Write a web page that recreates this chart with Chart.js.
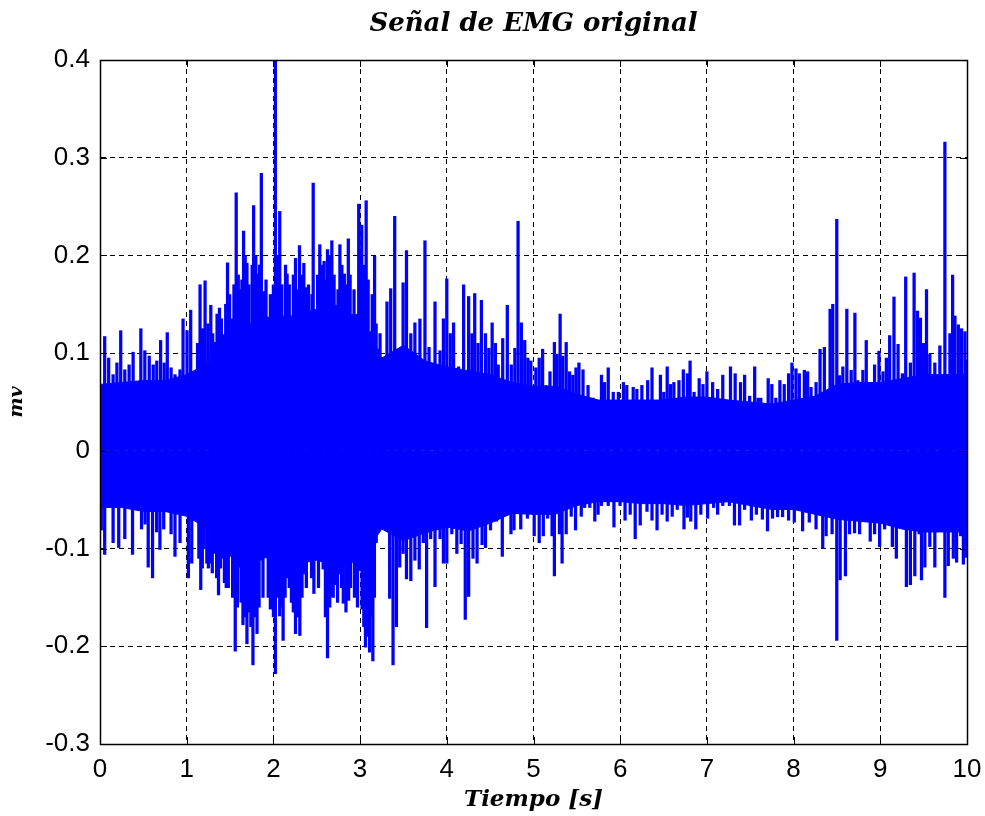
<!DOCTYPE html>
<html>
<head>
<meta charset="utf-8">
<script src="https://cdn.jsdelivr.net/npm/chart.js@4/dist/chart.umd.min.js"></script>
<style>
  html, body { margin: 0; padding: 0; background: #ffffff; }
  #wrap { width: 985px; height: 816px; }
</style>
</head>
<body>
<div id="wrap"><canvas id="c" width="985" height="816"></canvas></div>
<script>
// ---- Data ----
const chartTitle = 'Señal de EMG original';
const xTitle = 'Tiempo [s]';
const yTitle = 'mv';
const xTickValues = [0, 1, 2, 3, 4, 5, 6, 7, 8, 9, 10];
const yTickValues = [-0.3, -0.2, -0.1, 0, 0.1, 0.2, 0.3, 0.4];

// Solid body of the signal (envelope of the dense part), seconds / mV
const coreTimes = [0, 0.25, 0.5, 0.75, 1, 1.25, 1.5, 1.75, 2, 2.25, 2.5, 2.75, 3, 3.25, 3.5, 3.75, 4, 4.25, 4.5, 4.75, 5,
  5.25, 5.5, 5.75, 6, 6.25, 6.5, 6.75, 7, 7.25, 7.5, 7.75, 8, 8.25, 8.5, 8.75, 9, 9.25, 9.5, 9.75, 10];
const coreUpper = [0.068, 0.07, 0.072, 0.072, 0.078, 0.09, 0.112, 0.132, 0.138, 0.138, 0.145, 0.138, 0.14, 0.095, 0.108, 0.092, 0.086, 0.082, 0.078, 0.07, 0.066,
  0.066, 0.058, 0.052, 0.052, 0.052, 0.052, 0.055, 0.055, 0.052, 0.05, 0.048, 0.052, 0.056, 0.068, 0.07, 0.07, 0.074, 0.078, 0.078, 0.078];
const coreLower = [-0.058, -0.058, -0.062, -0.062, -0.067, -0.08, -0.095, -0.112, -0.108, -0.116, -0.112, -0.118, -0.112, -0.08, -0.092, -0.084, -0.078, -0.082, -0.074, -0.064, -0.065,
  -0.065, -0.056, -0.052, -0.052, -0.054, -0.054, -0.056, -0.054, -0.052, -0.056, -0.06, -0.06, -0.065, -0.07, -0.072, -0.074, -0.08, -0.083, -0.083, -0.083];

// Positive peaks (time s, value mV)
const upTimes = [0.054,0.100,0.151,0.195,0.239,0.286,0.336,0.382,0.421,0.471,0.517,0.568,0.614,0.655,0.699,0.740,0.776,0.820,0.865,0.923,
  0.958,1.004,1.046,1.100,1.154,1.212,1.278,1.328,1.378,1.425,1.471,1.521,1.571,1.618,1.656,1.695,1.741,1.772,1.822,1.861,
  1.888,1.946,1.985,2.023,2.073,2.120,2.158,2.208,2.255,2.301,2.351,2.382,2.429,2.459,2.488,2.535,2.585,2.624,2.674,2.721,
  2.767,2.818,2.864,2.907,2.953,2.984,3.019,3.070,3.116,3.167,3.205,3.256,3.310,3.353,3.399,3.438,3.496,3.535,3.585,3.632,
  3.690,3.748,3.795,3.864,3.922,3.961,4.000,4.040,4.078,4.136,4.194,4.252,4.290,4.322,4.360,4.399,4.446,4.485,4.523,4.560,
  4.593,4.645,4.698,4.744,4.785,4.822,4.860,4.899,4.935,4.969,5.027,5.066,5.105,5.144,5.190,5.241,5.272,5.307,5.338,5.377,
  5.416,5.454,5.490,5.524,5.571,5.629,5.687,5.726,5.784,5.820,5.862,5.920,5.979,6.037,6.076,6.115,6.150,6.192,6.250,6.317,
  6.367,6.406,6.464,6.503,6.542,6.580,6.619,6.678,6.728,6.775,6.806,6.852,6.911,6.955,7.000,7.066,7.124,7.183,7.221,7.272,
  7.326,7.388,7.435,7.493,7.551,7.590,7.622,7.660,7.707,7.749,7.795,7.842,7.892,7.942,7.981,8.027,8.066,8.124,8.162,8.201,
  8.259,8.305,8.355,8.382,8.421,8.452,8.498,8.529,8.568,8.614,8.664,8.707,8.741,8.799,8.838,8.884,8.934,8.985,9.031,9.070,
  9.108,9.158,9.205,9.255,9.293,9.347,9.390,9.429,9.463,9.500,9.533,9.571,9.629,9.687,9.718,9.745,9.772,9.803,9.834,9.861,
  9.900,9.938,9.977,9.996];
const upValues = [0.117,0.095,0.078,0.090,0.123,0.083,0.088,0.101,0.067,0.125,0.1025,0.097,0.088,0.092,0.113,0.090,0.121,0.085,0.078,0.083,
  0.135,0.123,0.144,0.080,0.170,0.174,0.149,0.111,0.146,0.119,0.1925,0.135,0.264,0.165,0.225,0.192,0.108,0.251,0.181,0.284,
  0.163,0.090,0.110,0.400,0.245,0.124,0.181,0.135,0.197,0.210,0.192,0.167,0.129,0.274,0.101,0.211,0.194,0.206,0.215,0.149,
  0.211,0.181,0.217,0.126,0.094,0.2525,0.231,0.256,0.122,0.199,0.104,0.092,0.1525,0.166,0.240,0.083,0.172,0.205,0.120,0.131,
  0.135,0.215,0.106,0.1525,0.1025,0.135,0.176,0.120,0.131,0.086,0.170,0.158,0.120,0.161,0.110,0.154,0.120,0.105,0.131,0.110,
  0.088,0.115,0.149,0.088,0.105,0.235,0.131,0.113,0.095,0.092,0.085,0.095,0.104,0.067,0.081,0.111,0.099,0.140,0.097,0.111,
  0.081,0.0775,0.085,0.090,0.083,0.067,0.054,0.051,0.0775,0.070,0.085,0.060,0.060,0.070,0.067,0.050,0.065,0.063,0.067,0.072,
  0.085,0.049,0.0775,0.060,0.086,0.068,0.070,0.072,0.083,0.079,0.092,0.060,0.074,0.068,0.081,0.070,0.063,0.0775,0.049,0.086,
  0.079,0.070,0.0775,0.056,0.086,0.054,0.054,0.047,0.074,0.068,0.054,0.072,0.068,0.079,0.090,0.084,0.079,0.0825,0.081,0.065,
  0.070,0.104,0.106,0.049,0.145,0.150,0.237,0.077,0.086,0.145,0.0825,0.141,0.072,0.0825,0.113,0.063,0.088,0.102,0.081,0.095,
  0.118,0.1575,0.109,0.079,0.178,0.090,0.182,0.143,0.136,0.110,0.165,0.099,0.090,0.1075,0.074,0.316,0.061,0.120,0.180,0.138,
  0.129,0.125,0.122,0.093];

// Negative peaks (time s, value mV)
const lowTimes = [0.015,0.054,0.100,0.151,0.216,0.286,0.351,0.375,0.440,0.479,0.520,0.556,0.606,0.653,0.691,0.735,0.776,0.820,0.865,0.923,
  0.981,1.019,1.058,1.116,1.162,1.200,1.232,1.270,1.320,1.367,1.410,1.456,1.502,1.560,1.606,1.649,1.695,1.764,1.811,1.857,
  1.907,1.965,2.023,2.073,2.112,2.158,2.208,2.255,2.305,2.351,2.409,2.467,2.488,2.547,2.574,2.624,2.674,2.713,2.767,2.806,
  2.868,2.915,2.953,2.992,3.023,3.062,3.109,3.147,3.186,3.236,3.295,3.341,3.380,3.419,3.457,3.496,3.535,3.585,3.632,3.682,
  3.729,3.767,3.814,3.864,3.922,3.961,4.000,4.058,4.116,4.165,4.213,4.252,4.302,4.349,4.407,4.446,4.504,4.574,4.640,4.698,
  4.740,4.775,4.853,4.930,5.008,5.066,5.113,5.163,5.214,5.241,5.299,5.330,5.377,5.435,5.485,5.551,5.590,5.649,5.707,5.745,
  5.784,5.862,5.928,5.998,6.056,6.115,6.173,6.231,6.309,6.367,6.425,6.483,6.542,6.600,6.658,6.736,6.775,6.814,6.872,6.930,
  7.008,7.078,7.124,7.183,7.260,7.318,7.377,7.435,7.513,7.571,7.640,7.699,7.757,7.815,7.873,7.942,8.008,8.066,8.104,8.181,
  8.259,8.305,8.336,8.375,8.444,8.498,8.537,8.568,8.598,8.645,8.703,8.761,8.838,8.884,8.934,8.992,9.050,9.100,9.139,9.185,
  9.255,9.301,9.347,9.378,9.398,9.448,9.475,9.514,9.571,9.629,9.687,9.745,9.784,9.842,9.880,9.927,9.958,9.996];
const lowValues = [-0.081,-0.106,-0.058,-0.094,-0.099,-0.090,-0.058,-0.106,-0.056,-0.080,-0.075,-0.119,-0.130,-0.083,-0.101,-0.080,-0.062,-0.085,-0.108,-0.094,
  -0.062,-0.130,-0.115,-0.067,-0.142,-0.100,-0.115,-0.115,-0.105,-0.1475,-0.110,-0.140,-0.108,-0.205,-0.119,-0.178,-0.1975,-0.219,-0.187,-0.112,
  -0.108,-0.162,-0.228,-0.169,-0.194,-0.130,-0.155,-0.187,-0.189,-0.126,-0.110,-0.146,-0.108,-0.072,-0.121,-0.212,-0.149,-0.137,-0.126,-0.156,
  -0.153,-0.108,-0.137,-0.1225,-0.162,-0.201,-0.206,-0.215,-0.094,-0.072,-0.072,-0.151,-0.219,-0.180,-0.119,-0.105,-0.131,-0.133,-0.112,-0.121,
  -0.094,-0.181,-0.090,-0.139,-0.090,-0.115,-0.115,-0.085,-0.105,-0.095,-0.1725,-0.149,-0.110,-0.115,-0.096,-0.099,-0.081,-0.072,-0.108,-0.062,
  -0.085,-0.081,-0.080,-0.069,-0.087,-0.094,-0.087,-0.069,-0.087,-0.128,-0.085,-0.115,-0.085,-0.067,-0.081,-0.067,-0.058,-0.058,-0.072,-0.065,
  -0.056,-0.056,-0.078,-0.056,-0.071,-0.065,-0.090,-0.076,-0.062,-0.071,-0.081,-0.065,-0.072,-0.067,-0.060,-0.080,-0.068,-0.072,-0.080,-0.065,
  -0.069,-0.058,-0.065,-0.056,-0.056,-0.076,-0.076,-0.060,-0.071,-0.065,-0.070,-0.082,-0.069,-0.0675,-0.0675,-0.071,-0.073,-0.060,-0.082,-0.073,
  -0.080,-0.062,-0.100,-0.087,-0.085,-0.194,-0.132,-0.060,-0.128,-0.085,-0.084,-0.085,-0.064,-0.0925,-0.085,-0.098,-0.080,-0.057,-0.098,-0.110,
  -0.075,-0.139,-0.137,-0.076,-0.128,-0.085,-0.132,-0.119,-0.098,-0.119,-0.075,-0.150,-0.1175,-0.110,-0.114,-0.087,-0.116,-0.109];

// Smaller in-between peaks of the dense burst (1.1 s - 3.25 s)
const burstUpTimes = [1.125,1.183,1.245,1.300,1.350,1.400,1.450,1.495,1.545,1.595,1.637,1.675,1.718,1.755,1.797,1.840,1.915,1.965,2.000,2.048,
  2.097,2.140,2.183,2.230,2.278,2.325,2.405,2.445,2.510,2.560,2.605,2.650,2.700,2.745,2.790,2.840,2.885,2.930,3.000,3.045,
  3.093,3.140,3.185,3.230];
const burstUpValues = [0.110,0.125,0.130,0.120,0.140,0.135,0.150,0.160,0.170,0.180,0.175,0.200,0.170,0.190,0.200,0.190,0.175,0.160,0.170,0.200,
  0.170,0.190,0.170,0.180,0.165,0.180,0.170,0.160,0.180,0.190,0.175,0.200,0.180,0.165,0.190,0.170,0.180,0.165,0.200,0.190,
  0.175,0.160,0.130,0.120];
const burstLowTimes = [1.140,1.180,1.250,1.295,1.345,1.390,1.435,1.480,1.530,1.585,1.627,1.672,1.720,1.740,1.785,1.835,1.880,1.940,2.000,2.048,
  2.090,2.135,2.183,2.230,2.280,2.330,2.380,2.440,2.520,2.600,2.650,2.690,2.740,2.787,2.837,2.890,2.935,2.970,3.043,3.085,
  3.125,3.165];
const burstLowValues = [-0.110,-0.120,-0.120,-0.125,-0.130,-0.120,-0.135,-0.140,-0.150,-0.160,-0.155,-0.170,-0.165,-0.180,-0.170,-0.160,-0.150,-0.150,-0.170,-0.150,
  -0.160,-0.150,-0.140,-0.165,-0.170,-0.150,-0.140,-0.130,-0.140,-0.170,-0.160,-0.150,-0.155,-0.140,-0.165,-0.140,-0.150,-0.160,-0.180,-0.190,
  -0.170,-0.150];

// ---- Chart ----
const BLUE = '#0000ff';
const serifFont = "'DejaVu Serif', 'Liberation Serif', serif";
const tickFont = "'Liberation Sans', Arial, sans-serif";

const framePlugin = {
  id: 'frame',
  afterDatasetsDraw(chart) {
    const {ctx, chartArea: a, scales} = chart;
    ctx.save();
    ctx.strokeStyle = '#000';
    ctx.lineWidth = 1.5;
    ctx.strokeRect(Math.round(a.left) + 0.5, Math.round(a.top) + 0.5,
      Math.round(a.right - a.left), Math.round(a.bottom - a.top));
    ctx.lineWidth = 1;
    const tl = 7;
    ctx.beginPath();
    xTickValues.forEach(v => {
      const px = Math.round(scales.x.getPixelForValue(v)) + 0.5;
      ctx.moveTo(px, a.bottom); ctx.lineTo(px, a.bottom - tl);
      ctx.moveTo(px, a.top); ctx.lineTo(px, a.top + tl);
    });
    yTickValues.forEach(v => {
      const py = Math.round(scales.y.getPixelForValue(v)) + 0.5;
      ctx.moveTo(a.left, py); ctx.lineTo(a.left + tl, py);
      ctx.moveTo(a.right, py); ctx.lineTo(a.right - tl, py);
    });
    ctx.stroke();
    ctx.restore();
  },
  afterDraw(chart) {
    const {ctx, chartArea: a} = chart;
    ctx.save();
    ctx.fillStyle = '#000';
    ctx.font = "italic bold 26px " + serifFont;
    ctx.textAlign = 'center';
    ctx.textBaseline = 'middle';
    ctx.fillText(chartTitle, (a.left + a.right) / 2, 24);
    ctx.restore();
  }
};

const barStyle = { type: 'bar', backgroundColor: BLUE, borderWidth: 0, barThickness: 2.6, grouped: false };

new Chart(document.getElementById('c'), {
  type: 'bar',
  data: {
    datasets: [
      {
        type: 'line',
        data: coreTimes.map((t, i) => ({x: t, y: coreUpper[i]})),
        borderColor: BLUE, backgroundColor: BLUE, borderWidth: 1,
        pointRadius: 0, tension: 0, fill: 'origin'
      },
      {
        type: 'line',
        data: coreTimes.map((t, i) => ({x: t, y: coreLower[i]})),
        borderColor: BLUE, backgroundColor: BLUE, borderWidth: 1,
        pointRadius: 0, tension: 0, fill: 'origin'
      },
      Object.assign({ data: upTimes.map((t, i) => ({x: t, y: [0, upValues[i]]})) }, barStyle),
      Object.assign({ data: lowTimes.map((t, i) => ({x: t, y: [lowValues[i], 0]})) }, barStyle),
      Object.assign({ data: burstUpTimes.map((t, i) => ({x: t, y: [0, burstUpValues[i]]})) }, barStyle),
      Object.assign({ data: burstLowTimes.map((t, i) => ({x: t, y: [burstLowValues[i], 0]})) }, barStyle)
    ]
  },
  options: {
    responsive: false,
    devicePixelRatio: 1,
    animation: false,
    events: [],
    layout: { padding: { left: 0, right: 18, top: 60, bottom: 0 } },
    plugins: {
      legend: { display: false },
      tooltip: { enabled: false },
      title: { display: false },
      filler: { propagate: false }
    },
    scales: {
      x: {
        type: 'linear', min: 0, max: 10, offset: false,
        afterBuildTicks: s => { s.ticks = xTickValues.map(v => ({value: v})); },
        afterFit: s => { s.height = 72; s.paddingLeft = 0; s.paddingRight = 0; },
        ticks: { color: '#000', font: { family: tickFont, size: 26 }, padding: 10, maxRotation: 0,
                 callback: v => String(v) },
        grid: { color: '#000', lineWidth: 1, drawTicks: false, offset: false },
        border: { display: true, color: '#000', width: 1, dash: [5, 4] },
        title: {
          display: true, text: xTitle, color: '#000',
          font: { family: serifFont, size: 23, style: 'italic', weight: 'bold' },
          padding: { top: 0, bottom: 2 }
        }
      },
      y: {
        type: 'linear', min: -0.3, max: 0.4,
        afterBuildTicks: s => { s.ticks = yTickValues.map(v => ({value: v})); },
        afterFit: s => { s.width = 100; s.paddingTop = 0; s.paddingBottom = 0; },
        ticks: { color: '#000', font: { family: tickFont, size: 26 }, padding: 10,
                 callback: v => String(Number(v.toFixed(1))) },
        grid: { color: '#000', lineWidth: 1, drawTicks: false, offset: false },
        border: { display: true, color: '#000', width: 1, dash: [5, 4] },
        title: {
          display: true, text: yTitle, color: '#000',
          font: { family: serifFont, size: 19, style: 'italic', weight: 'bold' },
          padding: { top: 6, bottom: 0 }
        }
      }
    }
  },
  plugins: [framePlugin]
});
</script>
</body>
</html>
